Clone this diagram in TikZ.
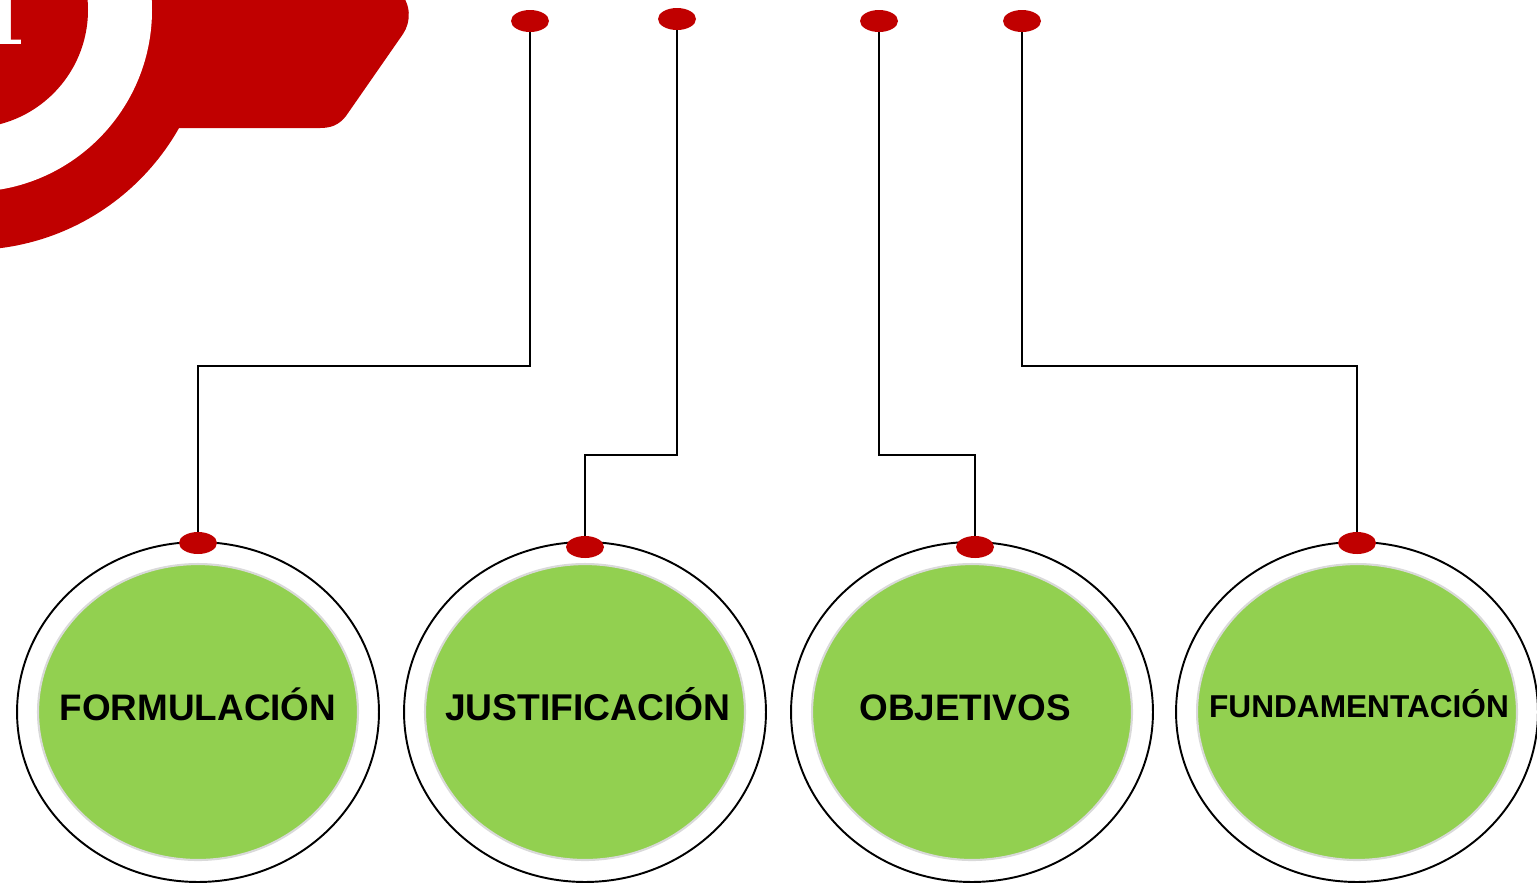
\documentclass[tikz,border=0pt]{standalone}
\usepackage{fontspec}
\usetikzlibrary{shapes.geometric}
\newfontfamily\headfont{Liberation Sans}
\newfontfamily\numfont{DejaVu Serif}
\definecolor{brandred}{RGB}{192,0,0}
\definecolor{leafgreen}{RGB}{146,208,80}
\definecolor{rimgray}{RGB}{217,217,217}
\tikzset{
  ring/.style={
    ellipse,
    draw=black,
    line width=1.1pt,
    minimum width=7.24cm,
    minimum height=6.8cm,
    inner sep=0pt
  },
  core/.style={
    ellipse,
    fill=leafgreen,
    draw=rimgray,
    line width=1.2pt,
    minimum width=6.4cm,
    minimum height=5.92cm,
    inner sep=0pt
  },
  pin/.style={ellipse, fill=brandred, minimum width=0.76cm, minimum height=0.44cm, inner sep=0pt},
  wire/.style={draw=black, line width=0.6pt},
  caption/.style={font=\headfont\bfseries, anchor=base, inner sep=0pt}
}
\newcommand{\brandmark}{
  \fill[brandred] (150,-10) -- (398,-10)
    .. controls (412,4) and (411,22) .. (403,34) -- (346,116)
    .. controls (339,125) and (331,128) .. (320,128) -- (150,128) -- cycle;
  \fill[brandred] (-30,10) circle[radius=240];
  \fill[white] (-30,10) circle[radius=182];
  \fill[brandred] (-30,10) circle[radius=118];
  \node[text=white, font=\numfont\bfseries\fontsize{42}{42}\selectfont,
    anchor=base, inner sep=0pt] (num) at (3,44) {1};
}

\begin{document}
\begin{tikzpicture}[x=0.02cm, y=-0.02cm]
  \useasboundingbox (0,0) rectangle (1537,887);
  \brandmark

  % Circles with their labels
  \foreach \x/\lx/\ly/\n/\t/\s in {198/198/720/1/FORMULACIÓN/21,
                                   585/588/720/2/JUSTIFICACIÓN/21.2,
                                   972/965/720/3/OBJETIVOS/21,
                                   1357/1359/717/4/FUNDAMENTACIÓN/18}{
    \node[ring] (ring\n) at (\x,712) {};
    \node[core] (core\n) at (\x,712) {};
    \node[caption] (lbl\n) at (\lx,\ly) {\fontsize{\s}{\s}\selectfont\t};
  }

  % Pins
  \node[pin] (top1) at (530,21) {};
  \node[pin] (top2) at (677,19) {};
  \node[pin] (top3) at (879,21) {};
  \node[pin] (top4) at (1022,21) {};
  \node[pin] (pin1) at (198,543) {};
  \node[pin] (pin2) at (585,547) {};
  \node[pin] (pin3) at (975,547) {};
  \node[pin] (pin4) at (1357,543) {};

  % Connectors
  \coordinate (upper) at (0,366);
  \coordinate (lower) at (0,455);
  \draw[wire] (top1) -- (top1 |- upper) -| (pin1);
  \draw[wire] (top2) -- (top2 |- lower) -| (pin2);
  \draw[wire] (top3) -- (top3 |- lower) -| (pin3);
  \draw[wire] (top4) -- (top4 |- upper) -| (pin4);
\end{tikzpicture}
\end{document}
